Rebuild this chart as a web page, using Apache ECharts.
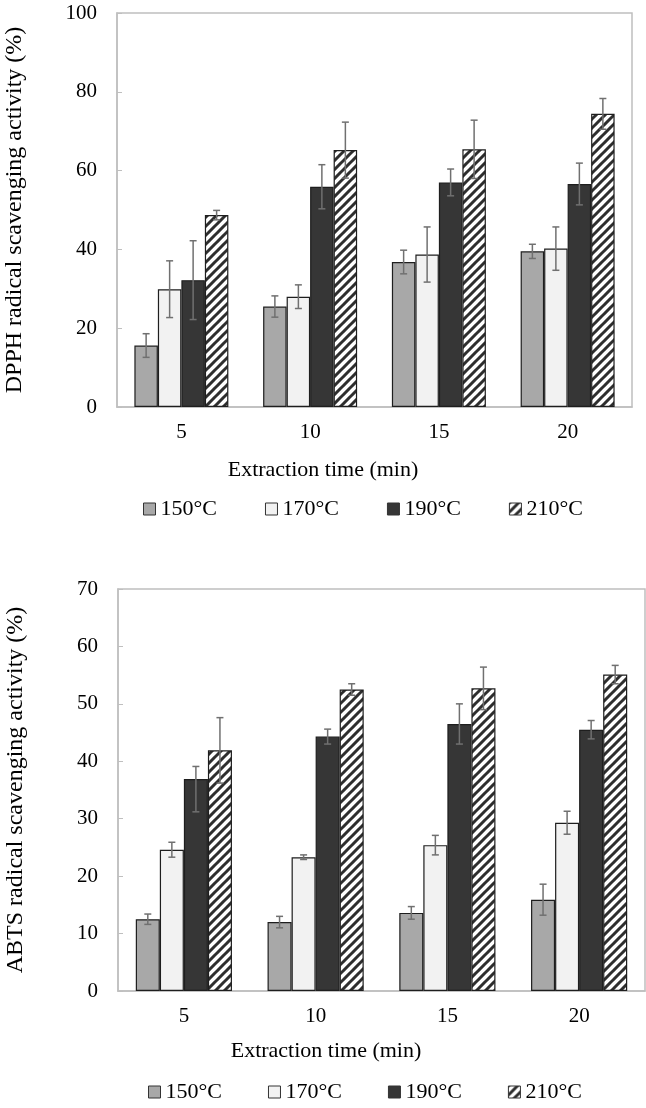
<!DOCTYPE html>
<html><head><meta charset="utf-8">
<script src="https://cdn.jsdelivr.net/npm/echarts@6/dist/echarts.min.js"></script>
<style>html,body{margin:0;padding:0;background:#fff}#c{width:646px;height:1108px}</style>
</head><body><div id="c"></div>
<script>
// ---- data ----
const categories = ['5', '10', '15', '20'];
const seriesNames = ['150°C', '170°C', '190°C', '210°C'];

const dpph150 = [15.6, 25.5, 36.8, 39.5];
const dpph170 = [29.9, 28.0, 38.7, 40.2];
const dpph190 = [32.2, 55.9, 57.0, 56.6];
const dpph210 = [48.7, 65.2, 65.4, 74.4];
const dpphErr150 = [3.0, 2.7, 3.0, 1.8];
const dpphErr170 = [7.2, 3.0, 7.0, 5.5];
const dpphErr190 = [10.0, 5.6, 3.4, 5.3];
const dpphErr210 = [1.2, 7.1, 7.4, 3.9];

const abts150 = [12.5, 12.0, 13.6, 15.9];
const abts170 = [24.6, 23.3, 25.4, 29.3];
const abts190 = [36.9, 44.3, 46.5, 45.5];
const abts210 = [41.9, 52.5, 52.7, 55.1];
const abtsErr150 = [0.9, 1.0, 1.1, 2.7];
const abtsErr170 = [1.3, 0.4, 1.7, 2.0];
const abtsErr190 = [[5.7, 2.2], 1.3, 3.5, 1.6]; // [minus, plus] where asymmetric
const abtsErr210 = [5.7, 1.0, 3.7, 1.6];

const dpphTitle = 'DPPH radical scavenging activity (%)';
const abtsTitle = 'ABTS radical scavenging activity (%)';
const xTitle = 'Extraction time (min)';

// ---- style ----
const FONT = '"Liberation Serif", "Times New Roman", serif';
const GAP = 0.27;

function hatchPattern() {
  const T = 9;
  const c = document.createElement('canvas');
  c.width = T; c.height = T;
  const g = c.getContext('2d');
  g.fillStyle = '#ffffff'; g.fillRect(0, 0, T, T);
  g.strokeStyle = '#2e2e2e'; g.lineWidth = 3; g.lineCap = 'square';
  g.beginPath();
  g.moveTo(-1, T + 1); g.lineTo(T + 1, -1);
  g.moveTo(-1, 1); g.lineTo(1, -1);
  g.moveTo(T - 1, T + 1); g.lineTo(T + 1, T - 1);
  g.stroke();
  return c;
}
const fills = ['#a8a8a8', '#f2f2f2', '#363636', { image: hatchPattern(), repeat: 'repeat' }];

function errRender(sIdx) {
  return function (params, api) {
    const cat = api.value(0), lo = api.value(1), hi = api.value(2);
    const band = api.size([1, 0])[0];
    const bw = band * (1 - GAP) / 4;
    const x = api.coord([cat, 0])[0] - band * (1 - GAP) / 2 + bw * (sIdx + 0.5);
    const y1 = api.coord([cat, lo])[1], y2 = api.coord([cat, hi])[1];
    const cw = 3.5;
    const st = { stroke: '#707070', lineWidth: 1.5 };
    return { type: 'group', children: [
      { type: 'line', shape: { x1: x, y1: y1, x2: x, y2: y2 }, style: st },
      { type: 'line', shape: { x1: x - cw, y1: y1, x2: x + cw, y2: y1 }, style: st },
      { type: 'line', shape: { x1: x - cw, y1: y2, x2: x + cw, y2: y2 }, style: st }
    ] };
  };
}

function buildSeries(gi, values, errs) {
  const out = [];
  values.forEach((vals, s) => {
    out.push({
      type: 'bar', name: seriesNames[s], xAxisIndex: gi, yAxisIndex: gi,
      data: vals, barGap: '0%', barCategoryGap: (GAP * 100) + '%',
      itemStyle: { color: fills[s], borderColor: '#1e1e1e', borderWidth: 1.2 },
      emphasis: { disabled: true }, z: 2
    });
  });
  values.forEach((vals, s) => {
    out.push({
      type: 'custom', xAxisIndex: gi, yAxisIndex: gi, z: 5, silent: true,
      renderItem: errRender(s), encode: { x: 0, y: [1, 2] },
      data: vals.map((v, i) => {
        const e = errs[s][i];
        const m = Array.isArray(e) ? e[0] : e, p = Array.isArray(e) ? e[1] : e;
        return [i, v - m, v + p];
      })
    });
  });
  return out;
}

const axisGray = '#bfbfbf';
function xAx(gi) {
  return {
    type: 'category', gridIndex: gi, data: categories,
    axisLine: { lineStyle: { color: axisGray, width: 1.5 } },
    axisTick: { inside: true, length: 5, lineStyle: { color: axisGray } },
    axisLabel: { color: '#000', fontFamily: FONT, fontSize: 21, margin: 15 }
  };
}
function yAx(gi, max, interval, name) {
  return {
    type: 'value', gridIndex: gi, min: 0, max: max, interval: interval,
    name: name, nameLocation: 'middle', nameGap: 90,
    nameTextStyle: { color: '#000', fontFamily: FONT, fontSize: 24 },
    axisLine: { show: true, lineStyle: { color: axisGray, width: 1.5 } },
    axisTick: { show: true, inside: true, length: 5, lineStyle: { color: axisGray } },
    splitLine: { show: false },
    axisLabel: { color: '#000', fontFamily: FONT, fontSize: 21, margin: 20 }
  };
}
function legend(top, left, gap) {
  return {
    top: top, left: left, itemGap: gap, itemWidth: 12, itemHeight: 12, icon: 'rect',
    itemStyle: { borderColor: '#333', borderWidth: 1 },
    data: seriesNames, selectedMode: false,
    textStyle: { color: '#000', fontFamily: FONT, fontSize: 22 }
  };
}

const chart = echarts.init(document.getElementById('c'), null, { renderer: 'canvas' });
chart.setOption({
  animation: false,
  backgroundColor: '#fff',
  grid: [
    { left: 117, top: 13, width: 515, height: 394, show: true, borderColor: axisGray, borderWidth: 1.5, containLabel: false, outerBoundsMode: 'none' },
    { left: 118, top: 589, width: 527, height: 402, show: true, borderColor: axisGray, borderWidth: 1.5, containLabel: false, outerBoundsMode: 'none' }
  ],
  xAxis: [xAx(0), xAx(1)],
  yAxis: [yAx(0, 100, 20, dpphTitle), yAx(1, 70, 10, abtsTitle)],
  legend: [legend(493, 138, 48), legend(1076, 143, 46)],
  graphic: [
    { type: 'text', x: 323, y: 470, style: { text: xTitle, align: 'center', verticalAlign: 'middle', font: '22px ' + FONT, fill: '#000' } },
    { type: 'text', x: 326, y: 1051, style: { text: xTitle, align: 'center', verticalAlign: 'middle', font: '22px ' + FONT, fill: '#000' } }
  ],
  series: [].concat(
    buildSeries(0, [dpph150, dpph170, dpph190, dpph210], [dpphErr150, dpphErr170, dpphErr190, dpphErr210]),
    buildSeries(1, [abts150, abts170, abts190, abts210], [abtsErr150, abtsErr170, abtsErr190, abtsErr210])
  )
});
</script></body></html>
